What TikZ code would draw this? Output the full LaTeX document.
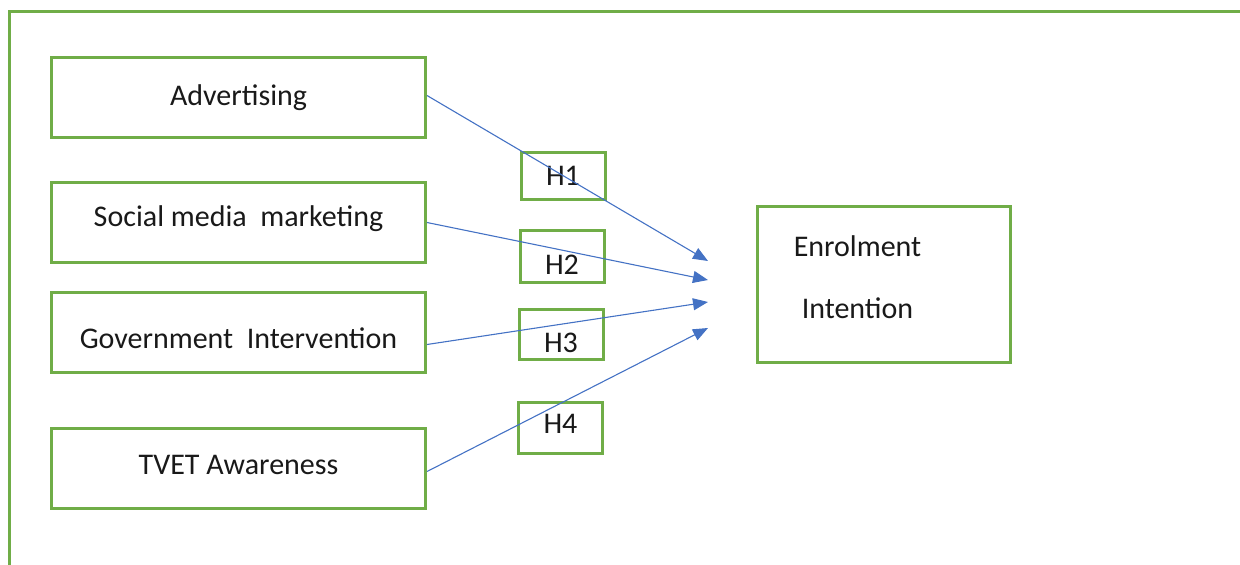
\documentclass[tikz,border=0pt]{standalone}
\usepackage{fontspec}
\setmainfont{Carlito}
\usetikzlibrary{arrows.meta,positioning,calc}
\definecolor{FrameGreen}{RGB}{112,173,71}
\definecolor{LinkBlue}{RGB}{68,114,196}
\definecolor{TextBlack}{RGB}{25,25,25}
\newcommand{\nudge}[2]{\raisebox{#1}[\height][\depth]{#2}}

\begin{document}
\begin{tikzpicture}[x=1pt,y=-1pt,>={Triangle[length=15pt,width=12pt]},
    every node/.style={font=\fontsize{30}{36}\selectfont,text=TextBlack},
    varbox/.style={draw=FrameGreen,line width=3pt,minimum width=374pt,minimum height=80pt,inner sep=0pt},
    hypbox/.style={draw=FrameGreen,line width=3pt,minimum width=84pt,minimum height=47pt,inner sep=0pt},
    link/.style={->,LinkBlue,line width=1.1pt}]
      \useasboundingbox (0,0) rectangle (1240,565);
      % open frame round the model
      \draw[FrameGreen,line width=3pt] (1250,11)--(9,11)--(9,575);
      % predictors
      \node[varbox] (adv) at (238.5,97.5) {Advertising};
      \node[varbox] (smm) at (238.5,222.5) {\nudge{4pt}{Social media\ \ marketing}};
      \node[varbox] (gov) at (238.5,332.5) {\nudge{-6pt}{Government\ \ Intervention}};
      \node[varbox] (tvet) at (238.5,468.5) {\nudge{4pt}{TVET Awareness}};
      % outcome
      \node[draw=FrameGreen,line width=3pt,minimum width=253pt,minimum height=156pt] (enrol) at (883.5,284.5) {};
      \node[align=center] (enroltext) at (857.5,277) {Enrolment\\[26pt]Intention};
      % hypotheses
      \node[hypbox] (h1) at (563,175.5) {H1};
      \node[hypbox,minimum height=52pt] (h2) at (562,256.5) {\nudge{-8pt}{H2}};
      \node[hypbox,minimum height=50pt] (h3) at (561,334.5) {\nudge{-8pt}{H3}};
      \node[hypbox,minimum height=51pt] (h4) at (560.5,428) {\nudge{4pt}{H4}};
      \coordinate (t1) at (708,261);
      \coordinate (t2) at (708,280);
      \coordinate (t3) at (708,302);
      \coordinate (t4) at (708,328);
      \draw[link] ($(adv.east)+(0,-2)$)--(t1);
      \draw[link] (smm.east)--(t2);
      \draw[link] ($(gov.east)+(0,12)$)--(t3);
      \draw[link] ($(tvet.east)+(0,3)$)--(t4);
    \end{tikzpicture}
\end{document}
